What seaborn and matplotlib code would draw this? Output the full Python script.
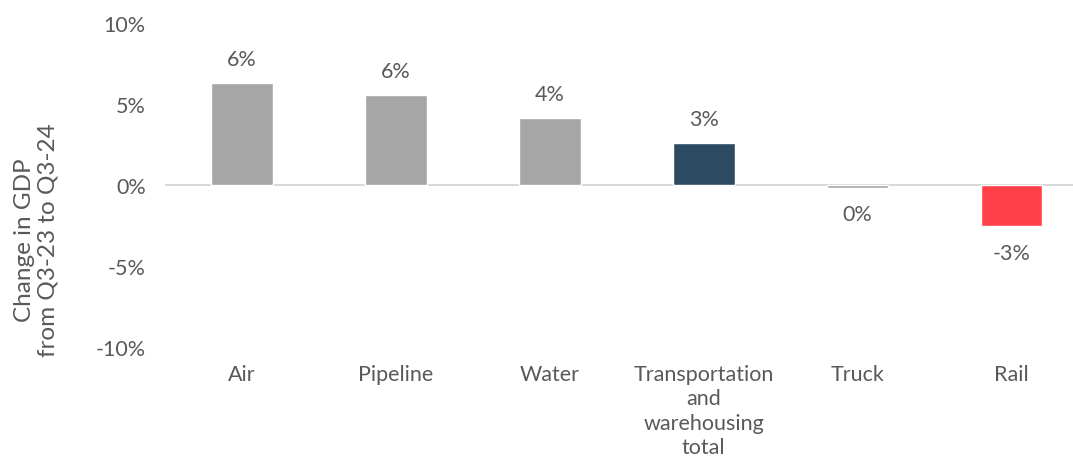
import matplotlib
matplotlib.use("Agg")
import matplotlib.pyplot as plt
import matplotlib.ticker as mticker
import seaborn as sns
import pandas as pd

# GDP change by transportation mode, Q3-23 to Q3-24 (percent)
categories = ["Air", "Pipeline", "Water", "Transportation\nand\nwarehousing\ntotal", "Truck", "Rail"]
values = [6.3, 5.57, 4.14, 2.59, -0.16, -2.55]
labels = ["6%", "6%", "4%", "3%", "0%", "-3%"]
colors = ["#a6a6a6", "#a6a6a6", "#a6a6a6", "#2c4b62", "#a6a6a6", "#ff4048"]
y_ticks = [-10, -5, 0, 5, 10]

sns.set_theme(style="white")
plt.rcParams["font.family"] = ["Lato", "DejaVu Sans"]
text_color = "#595959"
fs = 15.5

df = pd.DataFrame({"category": categories, "value": values})

fig = plt.figure(figsize=(10.73, 4.6), dpi=100)
ax = fig.add_axes([0.154, 0.243, 0.846, 0.705])

sns.barplot(data=df, x="category", y="value", hue="category",
            palette=colors, width=0.40, legend=False, ax=ax, saturation=1)

ax.set_ylim(-10, 10)
ax.set_xlim(-0.5, 5.4)
ax.set_yticks(y_ticks)
ax.yaxis.set_major_formatter(mticker.FuncFormatter(lambda v, _: f"{v:.0f}%"))
ax.axhline(0, color="#d9d9d9", lw=1.5, zorder=0)

for s in ax.spines.values():
    s.set_visible(False)
ax.tick_params(axis="both", length=0, labelsize=fs, colors=text_color)
ax.tick_params(axis="y", pad=14)
ax.tick_params(axis="x", pad=12)
for t in ax.get_xticklabels():
    t.set_linespacing(1.28)

ax.set_xlabel("")
ax.set_ylabel("Change in GDP\nfrom Q3-23 to Q3-24", fontsize=17.5, color=text_color,
              linespacing=1.15)
ax.yaxis.set_label_coords(-0.118, 0.333)

for i, (v, lab) in enumerate(zip(values, labels)):
    if v >= 0:
        ax.annotate(lab, (i, v), xytext=(0, 10), textcoords="offset points",
                    ha="center", va="bottom", fontsize=fs, color=text_color)
    else:
        ax.annotate(lab, (i, v), xytext=(0, -12), textcoords="offset points",
                    ha="center", va="top", fontsize=fs, color=text_color)

fig.savefig("out.png", dpi=100)
